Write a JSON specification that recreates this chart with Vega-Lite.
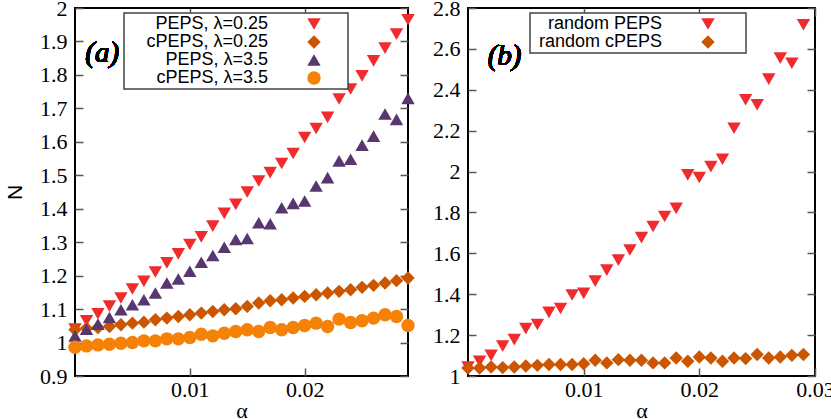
{
 "$schema": "https://vega.github.io/schema/vega-lite/v6.json",
 "padding": {"left": 3, "top": -4, "right": 0, "bottom": 0},
 "spacing": 60,
 "bounds": "flush",
 "config": {
  "view": {"stroke": "black", "strokeWidth": 2},
  "axis": {"grid": false, "domain": false, "tickColor": "#555", "tickWidth": 1.5, "tickSize": -8, "labelFont": "Liberation Serif, Times New Roman, Times, DejaVu Serif, serif", "labelFontSize": 22, "labelColor": "black", "labelPadding": 16, "labelFlush": false, "labelOverlap": false, "titleFont": "Liberation Serif, Times New Roman, Times, DejaVu Serif, serif", "titleFontSize": 22, "titleFontWeight": "normal", "titleColor": "black"},
  "axisX": {"labelPadding": 11, "titlePadding": 0},
  "legend": {"strokeWidth": 1.5}
 },
 "datasets": {
  "left": [
   {"a":0,"N":1.04,"s":"PEPS, λ=0.25"},{"a":0.001,"N":1.065,"s":"PEPS, λ=0.25"},{"a":0.002,"N":1.086,"s":"PEPS, λ=0.25"},{"a":0.003,"N":1.109,"s":"PEPS, λ=0.25"},{"a":0.004,"N":1.133,"s":"PEPS, λ=0.25"},{"a":0.005,"N":1.16,"s":"PEPS, λ=0.25"},{"a":0.006,"N":1.183,"s":"PEPS, λ=0.25"},{"a":0.007,"N":1.211,"s":"PEPS, λ=0.25"},{"a":0.008,"N":1.238,"s":"PEPS, λ=0.25"},{"a":0.009,"N":1.265,"s":"PEPS, λ=0.25"},{"a":0.01,"N":1.293,"s":"PEPS, λ=0.25"},{"a":0.011,"N":1.316,"s":"PEPS, λ=0.25"},{"a":0.012,"N":1.348,"s":"PEPS, λ=0.25"},{"a":0.013,"N":1.386,"s":"PEPS, λ=0.25"},{"a":0.014,"N":1.413,"s":"PEPS, λ=0.25"},{"a":0.015,"N":1.45,"s":"PEPS, λ=0.25"},{"a":0.016,"N":1.483,"s":"PEPS, λ=0.25"},{"a":0.017,"N":1.508,"s":"PEPS, λ=0.25"},{"a":0.018,"N":1.535,"s":"PEPS, λ=0.25"},{"a":0.019,"N":1.565,"s":"PEPS, λ=0.25"},{"a":0.02,"N":1.613,"s":"PEPS, λ=0.25"},{"a":0.021,"N":1.64,"s":"PEPS, λ=0.25"},{"a":0.022,"N":1.673,"s":"PEPS, λ=0.25"},{"a":0.023,"N":1.728,"s":"PEPS, λ=0.25"},{"a":0.024,"N":1.758,"s":"PEPS, λ=0.25"},{"a":0.025,"N":1.797,"s":"PEPS, λ=0.25"},{"a":0.026,"N":1.842,"s":"PEPS, λ=0.25"},{"a":0.027,"N":1.88,"s":"PEPS, λ=0.25"},{"a":0.028,"N":1.922,"s":"PEPS, λ=0.25"},{"a":0.029,"N":1.965,"s":"PEPS, λ=0.25"},
   {"a":0,"N":1.038,"s":"cPEPS, λ=0.25"},{"a":0.001,"N":1.043,"s":"cPEPS, λ=0.25"},{"a":0.002,"N":1.045,"s":"cPEPS, λ=0.25"},{"a":0.003,"N":1.048,"s":"cPEPS, λ=0.25"},{"a":0.004,"N":1.053,"s":"cPEPS, λ=0.25"},{"a":0.005,"N":1.058,"s":"cPEPS, λ=0.25"},{"a":0.006,"N":1.061,"s":"cPEPS, λ=0.25"},{"a":0.007,"N":1.068,"s":"cPEPS, λ=0.25"},{"a":0.008,"N":1.073,"s":"cPEPS, λ=0.25"},{"a":0.009,"N":1.078,"s":"cPEPS, λ=0.25"},{"a":0.01,"N":1.083,"s":"cPEPS, λ=0.25"},{"a":0.011,"N":1.088,"s":"cPEPS, λ=0.25"},{"a":0.012,"N":1.093,"s":"cPEPS, λ=0.25"},{"a":0.013,"N":1.098,"s":"cPEPS, λ=0.25"},{"a":0.014,"N":1.101,"s":"cPEPS, λ=0.25"},{"a":0.015,"N":1.108,"s":"cPEPS, λ=0.25"},{"a":0.016,"N":1.118,"s":"cPEPS, λ=0.25"},{"a":0.017,"N":1.125,"s":"cPEPS, λ=0.25"},{"a":0.018,"N":1.128,"s":"cPEPS, λ=0.25"},{"a":0.019,"N":1.133,"s":"cPEPS, λ=0.25"},{"a":0.02,"N":1.138,"s":"cPEPS, λ=0.25"},{"a":0.021,"N":1.143,"s":"cPEPS, λ=0.25"},{"a":0.022,"N":1.148,"s":"cPEPS, λ=0.25"},{"a":0.023,"N":1.153,"s":"cPEPS, λ=0.25"},{"a":0.024,"N":1.158,"s":"cPEPS, λ=0.25"},{"a":0.025,"N":1.165,"s":"cPEPS, λ=0.25"},{"a":0.026,"N":1.171,"s":"cPEPS, λ=0.25"},{"a":0.027,"N":1.178,"s":"cPEPS, λ=0.25"},{"a":0.028,"N":1.185,"s":"cPEPS, λ=0.25"},{"a":0.029,"N":1.193,"s":"cPEPS, λ=0.25"},
   {"a":0,"N":1.02,"s":"PEPS, λ=3.5"},{"a":0.001,"N":1.04,"s":"PEPS, λ=3.5"},{"a":0.002,"N":1.055,"s":"PEPS, λ=3.5"},{"a":0.003,"N":1.075,"s":"PEPS, λ=3.5"},{"a":0.004,"N":1.098,"s":"PEPS, λ=3.5"},{"a":0.005,"N":1.113,"s":"PEPS, λ=3.5"},{"a":0.006,"N":1.128,"s":"PEPS, λ=3.5"},{"a":0.007,"N":1.148,"s":"PEPS, λ=3.5"},{"a":0.008,"N":1.178,"s":"PEPS, λ=3.5"},{"a":0.009,"N":1.19,"s":"PEPS, λ=3.5"},{"a":0.01,"N":1.213,"s":"PEPS, λ=3.5"},{"a":0.011,"N":1.24,"s":"PEPS, λ=3.5"},{"a":0.012,"N":1.26,"s":"PEPS, λ=3.5"},{"a":0.013,"N":1.285,"s":"PEPS, λ=3.5"},{"a":0.014,"N":1.308,"s":"PEPS, λ=3.5"},{"a":0.015,"N":1.311,"s":"PEPS, λ=3.5"},{"a":0.016,"N":1.358,"s":"PEPS, λ=3.5"},{"a":0.017,"N":1.355,"s":"PEPS, λ=3.5"},{"a":0.018,"N":1.403,"s":"PEPS, λ=3.5"},{"a":0.019,"N":1.416,"s":"PEPS, λ=3.5"},{"a":0.02,"N":1.423,"s":"PEPS, λ=3.5"},{"a":0.021,"N":1.468,"s":"PEPS, λ=3.5"},{"a":0.022,"N":1.493,"s":"PEPS, λ=3.5"},{"a":0.023,"N":1.543,"s":"PEPS, λ=3.5"},{"a":0.024,"N":1.548,"s":"PEPS, λ=3.5"},{"a":0.025,"N":1.59,"s":"PEPS, λ=3.5"},{"a":0.026,"N":1.617,"s":"PEPS, λ=3.5"},{"a":0.027,"N":1.683,"s":"PEPS, λ=3.5"},{"a":0.028,"N":1.667,"s":"PEPS, λ=3.5"},{"a":0.029,"N":1.73,"s":"PEPS, λ=3.5"},
   {"a":0,"N":0.986,"s":"cPEPS, λ=3.5"},{"a":0.001,"N":0.99,"s":"cPEPS, λ=3.5"},{"a":0.002,"N":0.993,"s":"cPEPS, λ=3.5"},{"a":0.003,"N":0.995,"s":"cPEPS, λ=3.5"},{"a":0.004,"N":0.998,"s":"cPEPS, λ=3.5"},{"a":0.005,"N":1.0,"s":"cPEPS, λ=3.5"},{"a":0.006,"N":1.005,"s":"cPEPS, λ=3.5"},{"a":0.007,"N":1.005,"s":"cPEPS, λ=3.5"},{"a":0.008,"N":1.011,"s":"cPEPS, λ=3.5"},{"a":0.009,"N":1.011,"s":"cPEPS, λ=3.5"},{"a":0.01,"N":1.015,"s":"cPEPS, λ=3.5"},{"a":0.011,"N":1.025,"s":"cPEPS, λ=3.5"},{"a":0.012,"N":1.02,"s":"cPEPS, λ=3.5"},{"a":0.013,"N":1.028,"s":"cPEPS, λ=3.5"},{"a":0.014,"N":1.033,"s":"cPEPS, λ=3.5"},{"a":0.015,"N":1.038,"s":"cPEPS, λ=3.5"},{"a":0.016,"N":1.033,"s":"cPEPS, λ=3.5"},{"a":0.017,"N":1.045,"s":"cPEPS, λ=3.5"},{"a":0.018,"N":1.038,"s":"cPEPS, λ=3.5"},{"a":0.019,"N":1.045,"s":"cPEPS, λ=3.5"},{"a":0.02,"N":1.051,"s":"cPEPS, λ=3.5"},{"a":0.021,"N":1.058,"s":"cPEPS, λ=3.5"},{"a":0.022,"N":1.048,"s":"cPEPS, λ=3.5"},{"a":0.023,"N":1.07,"s":"cPEPS, λ=3.5"},{"a":0.024,"N":1.06,"s":"cPEPS, λ=3.5"},{"a":0.025,"N":1.065,"s":"cPEPS, λ=3.5"},{"a":0.026,"N":1.073,"s":"cPEPS, λ=3.5"},{"a":0.027,"N":1.083,"s":"cPEPS, λ=3.5"},{"a":0.028,"N":1.078,"s":"cPEPS, λ=3.5"},{"a":0.029,"N":1.051,"s":"cPEPS, λ=3.5"}
  ],
  "right": [
   {"a":0,"N":1.044,"s":"random PEPS"},{"a":0.001,"N":1.072,"s":"random PEPS"},{"a":0.002,"N":1.101,"s":"random PEPS"},{"a":0.003,"N":1.146,"s":"random PEPS"},{"a":0.004,"N":1.178,"s":"random PEPS"},{"a":0.005,"N":1.232,"s":"random PEPS"},{"a":0.006,"N":1.252,"s":"random PEPS"},{"a":0.007,"N":1.311,"s":"random PEPS"},{"a":0.008,"N":1.33,"s":"random PEPS"},{"a":0.009,"N":1.396,"s":"random PEPS"},{"a":0.01,"N":1.404,"s":"random PEPS"},{"a":0.011,"N":1.464,"s":"random PEPS"},{"a":0.012,"N":1.518,"s":"random PEPS"},{"a":0.013,"N":1.567,"s":"random PEPS"},{"a":0.014,"N":1.616,"s":"random PEPS"},{"a":0.015,"N":1.677,"s":"random PEPS"},{"a":0.016,"N":1.731,"s":"random PEPS"},{"a":0.017,"N":1.78,"s":"random PEPS"},{"a":0.018,"N":1.82,"s":"random PEPS"},{"a":0.019,"N":1.984,"s":"random PEPS"},{"a":0.02,"N":1.971,"s":"random PEPS"},{"a":0.021,"N":2.024,"s":"random PEPS"},{"a":0.022,"N":2.06,"s":"random PEPS"},{"a":0.023,"N":2.212,"s":"random PEPS"},{"a":0.024,"N":2.351,"s":"random PEPS"},{"a":0.025,"N":2.327,"s":"random PEPS"},{"a":0.026,"N":2.452,"s":"random PEPS"},{"a":0.027,"N":2.555,"s":"random PEPS"},{"a":0.028,"N":2.53,"s":"random PEPS"},{"a":0.029,"N":2.718,"s":"random PEPS"},
   {"a":0,"N":1.039,"s":"random cPEPS"},{"a":0.001,"N":1.039,"s":"random cPEPS"},{"a":0.002,"N":1.044,"s":"random cPEPS"},{"a":0.003,"N":1.041,"s":"random cPEPS"},{"a":0.004,"N":1.044,"s":"random cPEPS"},{"a":0.005,"N":1.049,"s":"random cPEPS"},{"a":0.006,"N":1.052,"s":"random cPEPS"},{"a":0.007,"N":1.056,"s":"random cPEPS"},{"a":0.008,"N":1.056,"s":"random cPEPS"},{"a":0.009,"N":1.056,"s":"random cPEPS"},{"a":0.01,"N":1.06,"s":"random cPEPS"},{"a":0.011,"N":1.077,"s":"random cPEPS"},{"a":0.012,"N":1.064,"s":"random cPEPS"},{"a":0.013,"N":1.08,"s":"random cPEPS"},{"a":0.014,"N":1.077,"s":"random cPEPS"},{"a":0.015,"N":1.077,"s":"random cPEPS"},{"a":0.016,"N":1.064,"s":"random cPEPS"},{"a":0.017,"N":1.064,"s":"random cPEPS"},{"a":0.018,"N":1.088,"s":"random cPEPS"},{"a":0.019,"N":1.072,"s":"random cPEPS"},{"a":0.02,"N":1.093,"s":"random cPEPS"},{"a":0.021,"N":1.088,"s":"random cPEPS"},{"a":0.022,"N":1.072,"s":"random cPEPS"},{"a":0.023,"N":1.088,"s":"random cPEPS"},{"a":0.024,"N":1.085,"s":"random cPEPS"},{"a":0.025,"N":1.105,"s":"random cPEPS"},{"a":0.026,"N":1.088,"s":"random cPEPS"},{"a":0.027,"N":1.093,"s":"random cPEPS"},{"a":0.028,"N":1.101,"s":"random cPEPS"},{"a":0.029,"N":1.105,"s":"random cPEPS"}
  ]
 },
 "hconcat": [
  {
   "width": 333, "height": 368,
   "data": {"name": "left"},
   "layer": [
    {
     "mark": {"type": "point", "filled": true, "opacity": 1},
     "encoding": {
      "x": {"field": "a", "type": "quantitative", "scale": {"domain": [0, 0.029], "nice": false, "zero": false}, "axis": {"values": [0.01, 0.02], "title": "α", "format": "~g"}},
      "y": {"field": "N", "type": "quantitative", "scale": {"domain": [0.9, 2], "nice": false, "zero": false}, "axis": {"values": [0.9, 1, 1.1, 1.2, 1.3, 1.4, 1.5, 1.6, 1.7, 1.8, 1.9, 2], "title": "N", "format": "~g", "titleFont": "Liberation Sans, Arial, Helvetica, sans-serif", "titleFontSize": 21, "titlePadding": 14}},
      "color": {"field": "s", "type": "nominal", "sort": null, "scale": {"domain": ["PEPS, λ=0.25", "cPEPS, λ=0.25", "PEPS, λ=3.5", "cPEPS, λ=3.5"], "range": ["#ef2b2d", "#cc5500", "#583670", "#f58207"]},
       "legend": {"orient": "none", "legendX": 49, "legendY": 5, "title": "———————————————————————————————————————————————————————", "titleOrient": "bottom", "titlePadding": -4, "titleFontSize": 4, "titleFont": "Liberation Sans, Arial, sans-serif", "titleFontWeight": "normal", "titleColor": "transparent", "titleLimit": 1000, "strokeColor": "#444", "fillColor": "white", "padding": 2, "rowPadding": -5, "labelFont": "Liberation Sans, Arial, Helvetica, sans-serif", "labelFontSize": 18, "labelColor": "black", "labelAlign": "right", "labelOffset": -55, "symbolOffset": 179, "symbolSize": 180, "symbolOpacity": 1, "symbolStrokeWidth": 0, "labelLimit": 400}},
      "shape": {"field": "s", "type": "nominal", "sort": null, "scale": {"domain": ["PEPS, λ=0.25", "cPEPS, λ=0.25", "PEPS, λ=3.5", "cPEPS, λ=3.5"], "range": ["triangle-down", "diamond", "triangle-up", "circle"]}},
      "size": {"field": "s", "type": "nominal", "sort": null, "scale": {"domain": ["PEPS, λ=0.25", "cPEPS, λ=0.25", "PEPS, λ=3.5", "cPEPS, λ=3.5"], "range": [180, 180, 180, 225]}, "legend": null}
     }
    },
    {
     "mark": {"type": "point", "opacity": 0},
     "encoding": {
      "x": {"field": "a", "type": "quantitative", "scale": {"domain": [0, 0.029], "nice": false, "zero": false}, "axis": {"orient": "top", "values": [0.01, 0.02], "labels": false, "title": null}},
      "y": {"field": "N", "type": "quantitative", "scale": {"domain": [0.9, 2], "nice": false, "zero": false}, "axis": {"orient": "right", "values": [0.9, 1, 1.1, 1.2, 1.3, 1.4, 1.5, 1.6, 1.7, 1.8, 1.9, 2], "labels": false, "title": null}}
     }
    },
    {
     "mark": {"type": "text", "text": "(a)", "font": "Liberation Serif, Times New Roman, Times, DejaVu Serif, serif", "fontStyle": "italic", "fontWeight": "normal", "fontSize": 29, "align": "left", "baseline": "middle", "color": "black"},
     "encoding": {
      "x": {"datum": 0.0009, "type": "quantitative", "axis": null},
      "y": {"datum": 1.866, "type": "quantitative", "axis": null}
     }
    }
   ],
   "resolve": {"axis": {"x": "independent", "y": "independent"}}
  },
  {
   "width": 347, "height": 368,
   "data": {"name": "right"},
   "layer": [
    {
     "mark": {"type": "point", "filled": true, "opacity": 1},
     "encoding": {
      "x": {"field": "a", "type": "quantitative", "scale": {"domain": [0, 0.03], "nice": false, "zero": false}, "axis": {"values": [0.01, 0.02, 0.03], "title": "α", "format": "~g"}},
      "y": {"field": "N", "type": "quantitative", "scale": {"domain": [1, 2.8], "nice": false, "zero": false}, "axis": {"values": [1, 1.2, 1.4, 1.6, 1.8, 2, 2.2, 2.4, 2.6, 2.8], "title": null, "format": "~g"}},
      "color": {"field": "s", "type": "nominal", "sort": null, "scale": {"domain": ["random PEPS", "random cPEPS"], "range": ["#ef2b2d", "#cc5500"]},
       "legend": {"orient": "none", "legendX": 62, "legendY": 5, "title": "—————————————————————————————————————————————————————", "titleOrient": "bottom", "titlePadding": -4, "titleFontSize": 4, "titleFont": "Liberation Sans, Arial, sans-serif", "titleFontWeight": "normal", "titleColor": "transparent", "titleLimit": 1000, "strokeColor": "#444", "fillColor": "white", "padding": 2, "rowPadding": -5, "labelFont": "Liberation Sans, Arial, Helvetica, sans-serif", "labelFontSize": 18, "labelColor": "black", "labelAlign": "right", "labelOffset": -55, "symbolOffset": 167, "symbolSize": 180, "symbolOpacity": 1, "symbolStrokeWidth": 0, "labelLimit": 400}},
      "shape": {"field": "s", "type": "nominal", "sort": null, "scale": {"domain": ["random PEPS", "random cPEPS"], "range": ["triangle-down", "diamond"]}},
      "size": {"value": 180}
     }
    },
    {
     "mark": {"type": "point", "opacity": 0},
     "encoding": {
      "x": {"field": "a", "type": "quantitative", "scale": {"domain": [0, 0.03], "nice": false, "zero": false}, "axis": {"orient": "top", "values": [0.01, 0.02, 0.03], "labels": false, "title": null}},
      "y": {"field": "N", "type": "quantitative", "scale": {"domain": [1, 2.8], "nice": false, "zero": false}, "axis": {"orient": "right", "values": [1, 1.2, 1.4, 1.6, 1.8, 2, 2.2, 2.4, 2.6, 2.8], "labels": false, "title": null}}
     }
    },
    {
     "mark": {"type": "text", "text": "(b)", "font": "Liberation Serif, Times New Roman, Times, DejaVu Serif, serif", "fontStyle": "italic", "fontWeight": "normal", "fontSize": 29, "align": "left", "baseline": "middle", "color": "black"},
     "encoding": {
      "x": {"datum": 0.0017, "type": "quantitative", "axis": null},
      "y": {"datum": 2.565, "type": "quantitative", "axis": null}
     }
    }
   ],
   "resolve": {"axis": {"x": "independent", "y": "independent"}}
  }
 ],
 "resolve": {"scale": {"color": "independent", "shape": "independent", "size": "independent"}, "legend": {"color": "independent", "shape": "independent", "size": "independent"}}
}
